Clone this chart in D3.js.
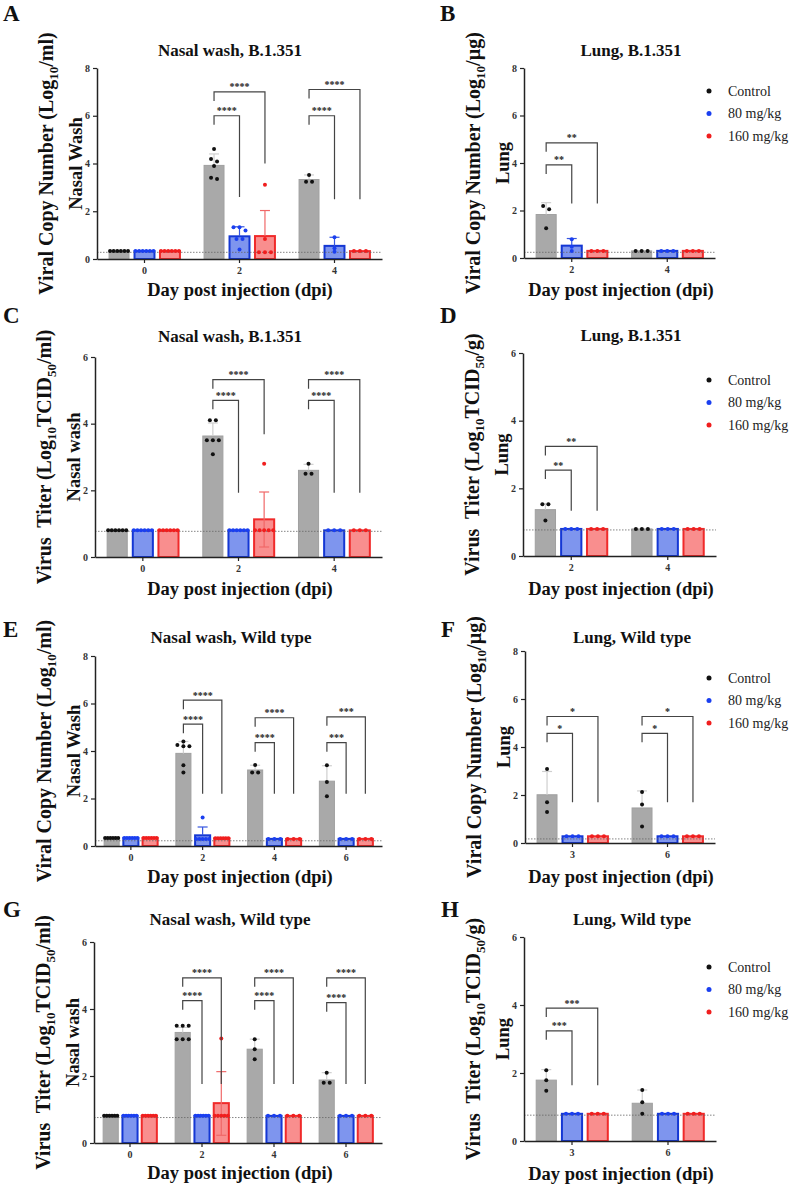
<!DOCTYPE html>
<html>
<head>
<meta charset="utf-8">
<script src="https://cdn.jsdelivr.net/npm/d3@7"></script>
<style>
body { margin: 0; background: #fff; }
svg text { font-family: "Liberation Serif", "Times New Roman", serif; }
</style>
</head>
<body>
<svg id="fig" width="789" height="1188"></svg>
<script>
// treatment groups
var groups = ["Control", "80 mg/kg", "160 mg/kg"];
var copyTicks = [0, 2, 4, 6, 8];
var titerTicks = [0, 2, 4, 6];

// A : nasal wash, B.1.351, viral copy number
var daysA = ["0", "2", "4"];
var meanA = [[0.33, 3.92, 3.33], [0.33, 0.95, 0.55], [0.33, 0.96, 0.33]];
var errA = [[null, 4.40, 3.52], [null, 1.35, 0.91], [null, 2.03, null]];
var ptsA = [
  [[0.33, 0.33, 0.33, 0.33, 0.33, 0.33], [4.61, 4.19, 4.08, 3.9, 3.35, 3.4], [3.52, 3.24, 3.24]],
  [[0.33, 0.33, 0.33, 0.33, 0.33, 0.33], [1.33, 1.33, 1.19, 0.84, 0.84, 0.4], [0.91, 0.45, 0.3]],
  [[0.33, 0.33, 0.33, 0.33, 0.33, 0.33], [3.11, 0.84, 0.28, 0.28, 0.28], [0.33, 0.33, 0.33]]
];
var sigA = [[1, 1, 6.0, 2.6, "****"], [1, 2, 7.0, 4.0, "****"], [2, 1, 6.0, 2.5, "****"], [2, 2, 7.1, 2.5, "****"]];
var lodA = 0.28;

// B : lung, B.1.351, viral copy number
var daysB = ["2", "4"];
var meanB = [[1.83, 0.3], [0.52, 0.3], [0.3, 0.3]];
var errB = [[2.33, null], [0.82, null], [null, null]];
var ptsB = [
  [[2.19, 2.05, 1.25], [0.3, 0.3, 0.3]],
  [[0.79, 0.47, 0.3], [0.3, 0.3, 0.3]],
  [[0.3, 0.3, 0.3], [0.3, 0.3, 0.3]]
];
var sigB = [[0, 1, 3.92, 2.3, "**"], [0, 2, 4.85, 2.3, "**"]];
var lodB = 0.24;

// C : nasal wash, B.1.351, virus titer
var daysC = ["0", "2", "4"];
var meanC = [[0.8, 3.63, 2.6], [0.8, 0.8, 0.8], [0.8, 1.13, 0.8]];
var errC = [[null, 4.02, 2.78], [null, null, null], [null, 1.95, null]];
var errDownC = [[null, null, null], [null, null, null], [null, 0.3, null]];
var ptsC = [
  [[0.8, 0.8, 0.8, 0.8, 0.8, 0.8], [4.1, 4.1, 3.5, 3.5, 3.5, 3.08], [2.8, 2.5, 2.5]],
  [[0.8, 0.8, 0.8, 0.8, 0.8, 0.8], [0.8, 0.8, 0.8, 0.8, 0.8, 0.8], [0.8, 0.8, 0.8]],
  [[0.8, 0.8, 0.8, 0.8, 0.8, 0.8], [2.8, 0.8, 0.8, 0.8, 0.8, 0.8], [0.8, 0.8, 0.8]]
];
var sigC = [[1, 1, 4.7, 1.93, "****"], [1, 2, 5.32, 3.68, "****"], [2, 1, 4.7, 1.93, "****"], [2, 2, 5.32, 1.93, "****"]];
var lodC = 0.77;

// D : lung, B.1.351, virus titer
var daysD = ["2", "4"];
var meanD = [[1.37, 0.8], [0.8, 0.8], [0.8, 0.8]];
var errD = [[1.55, null], [null, null], [null, null]];
var ptsD = [
  [[1.53, 1.53, 1.05], [0.8, 0.8, 0.8]],
  [[0.8, 0.8, 0.8], [0.8, 0.8, 0.8]],
  [[0.8, 0.8, 0.8], [0.8, 0.8, 0.8]]
];
var sigD = [[0, 1, 2.54, 1.34, "**"], [0, 2, 3.24, 1.34, "**"]];
var lodD = 0.77;

// E : nasal wash, wild type, viral copy number
var daysE = ["0", "2", "4", "6"];
var meanE = [[0.34, 3.9, 3.2, 2.73], [0.34, 0.45, 0.3, 0.3], [0.34, 0.33, 0.3, 0.3]];
var errE = [[null, 4.4, 3.4, 3.38], [null, 0.8, null, null], [null, null, null, null]];
var ptsE = [
  [[0.34, 0.34, 0.34, 0.34, 0.34, 0.34], [4.2, 4.4, 4.2, 4.25, 3.4, 3.1], [3.41, 3.1, 3.1], [3.4, 2.7, 2.1]],
  [[0.34, 0.34, 0.34, 0.34, 0.34, 0.34], [1.2, 0.3, 0.3, 0.3, 0.3, 0.3], [0.3, 0.3, 0.3], [0.3, 0.3, 0.3]],
  [[0.34, 0.34, 0.34, 0.34, 0.34, 0.34], [0.33, 0.33, 0.33, 0.33, 0.33, 0.33], [0.3, 0.3, 0.3], [0.3, 0.3, 0.3]]
];
var sigE = [[1, 1, 5.13, 2.2, "****"], [1, 2, 6.14, 2.2, "****"], [2, 1, 4.35, 2.2, "****"], [2, 2, 5.4, 2.2, "****"], [3, 1, 4.35, 2.2, "***"], [3, 2, 5.44, 2.2, "***"]];
var lodE = 0.22;

// F : lung, wild type, viral copy number
var daysF = ["3", "6"];
var meanF = [[2.01, 1.46], [0.28, 0.28], [0.28, 0.28]];
var errF = [[2.98, 2.17], [null, null], [null, null]];
var ptsF = [
  [[3.08, 1.7, 1.29], [2.12, 1.6, 0.69]],
  [[0.28, 0.28, 0.28], [0.28, 0.28, 0.28]],
  [[0.28, 0.28, 0.28], [0.28, 0.28, 0.28]]
];
var sigF = [[0, 1, 4.57, 1.7, "*"], [0, 2, 5.27, 1.7, "*"], [1, 1, 4.57, 1.7, "*"], [1, 2, 5.27, 1.7, "*"]];
var lodF = 0.17;

// G : nasal wash, wild type, virus titer
var daysG = ["0", "2", "4", "6"];
var meanG = [[0.81, 3.3, 2.8, 1.88], [0.81, 0.81, 0.81, 0.81], [0.81, 1.19, 0.81, 0.81]];
var errG = [[null, 3.45, 3.1, 2.1], [null, null, null, null], [null, 2.13, null, null]];
var errDownG = [[null, null, null, null], [null, null, null, null], [null, 0.23, null, null]];
var ptsG = [
  [[0.81, 0.81, 0.81, 0.81, 0.81, 0.81], [3.5, 3.5, 3.5, 3.1, 3.1, 3.1], [3.1, 2.8, 2.5], [2.1, 1.8, 1.8]],
  [[0.81, 0.81, 0.81, 0.81, 0.81, 0.81], [0.81, 0.81, 0.81, 0.81, 0.81, 0.81], [0.81, 0.81, 0.81], [0.81, 0.81, 0.81]],
  [[0.81, 0.81, 0.81, 0.81, 0.81, 0.81], [3.12, 0.81, 0.81, 0.81, 0.81, 0.81], [0.81, 0.81, 0.81], [0.81, 0.81, 0.81]]
];
var sigG = [[1, 1, 4.25, 1.76, "****"], [1, 2, 4.93, 1.76, "****"], [2, 1, 4.25, 1.76, "****"], [2, 2, 4.93, 1.76, "****"], [3, 1, 4.19, 1.76, "****"], [3, 2, 4.93, 1.76, "****"]];
var lodG = 0.76;

// H : lung, wild type, virus titer
var daysH = ["3", "6"];
var meanH = [[1.79, 1.11], [0.8, 0.8], [0.8, 0.8]];
var errH = [[2.1, 1.5], [null, null], [null, null]];
var ptsH = [
  [[2.08, 1.79, 1.48], [1.5, 1.14, 0.8]],
  [[0.8, 0.8, 0.8], [0.8, 0.8, 0.8]],
  [[0.8, 0.8, 0.8], [0.8, 0.8, 0.8]]
];
var sigH = [[0, 1, 3.24, 1.64, "***"], [0, 2, 3.91, 1.64, "***"]];
var lodH = 0.76;

// axis label pieces, [text, isSubscript]
var copyMl = [["Viral Copy Number (Log", 0], ["10", 1], ["/ml)", 0]];
var copyUg = [["Viral Copy Number (Log", 0], ["10", 1], ["/\u00b5g)", 0]];
var titerMl = [["Virus  Titer (Log", 0], ["10", 1], ["TCID", 0], ["50", 1], ["/ml)", 0]];
var titerG = [["Virus  Titer (Log", 0], ["10", 1], ["TCID", 0], ["50", 1], ["/g)", 0]];

// styling
var fills = ["#a9a9a9", "#7e95ee", "#f98e8e"];
var strokes = ["#a0a0a0", "#1437d4", "#f02a2a"];
var errColors = ["#cfcfcf", "#3656e0", "#f06868"];
var dotColors = ["#111111", "#1a3ff0", "#f01e1e"];

var svg = d3.select("#fig");

var panels = [
  {letter: "A", lp: [3, 21], days: daysA, mean: meanA, err: errA, errDown: null, pts: ptsA, sig: sigA, lod: lodA, yMax: 8, ticks: copyTicks,
   title: "Nasal wash, B.1.351", tp: [230, 56], ylab: copyMl, ylab2: "Nasal Wash", box: [97, 382, 68, 259], xl: [240, 296], legend: null},
  {letter: "B", lp: [440, 21], days: daysB, mean: meanB, err: errB, errDown: null, pts: ptsB, sig: sigB, lod: lodB, yMax: 8, ticks: copyTicks,
   title: "Lung, B.1.351", tp: [631, 56], ylab: copyUg, ylab2: "Lung", box: [524, 715, 68, 258], xl: [621, 296], legend: 91},
  {letter: "C", lp: [3, 323], days: daysC, mean: meanC, err: errC, errDown: errDownC, pts: ptsC, sig: sigC, lod: lodC, yMax: 6, ticks: titerTicks,
   title: "Nasal wash, B.1.351", tp: [230, 342], ylab: titerMl, ylab2: "Nasal wash", box: [95, 382, 357, 557], xl: [240, 595], legend: null},
  {letter: "D", lp: [440, 323], days: daysD, mean: meanD, err: errD, errDown: null, pts: ptsD, sig: sigD, lod: lodD, yMax: 6, ticks: titerTicks,
   title: "Lung, B.1.351", tp: [631, 341], ylab: titerG, ylab2: "Lung", box: [523, 716, 353, 556], xl: [621, 595], legend: 380},
  {letter: "E", lp: [3, 637], days: daysE, mean: meanE, err: errE, errDown: null, pts: ptsE, sig: sigE, lod: lodE, yMax: 8, ticks: copyTicks,
   title: "Nasal wash, Wild type", tp: [231, 643], ylab: copyMl, ylab2: "Nasal Wash", box: [95, 382, 656, 846], xl: [240, 883], legend: null},
  {letter: "F", lp: [441, 637], days: daysF, mean: meanF, err: errF, errDown: null, pts: ptsF, sig: sigF, lod: lodF, yMax: 8, ticks: copyTicks,
   title: "Lung, Wild type", tp: [632, 643], ylab: copyUg, ylab2: "Lung", box: [525, 715, 651, 843], xl: [621, 883], legend: 678},
  {letter: "G", lp: [3, 917], days: daysG, mean: meanG, err: errG, errDown: errDownG, pts: ptsG, sig: sigG, lod: lodG, yMax: 6, ticks: titerTicks,
   title: "Nasal wash, Wild type", tp: [230, 925], ylab: titerMl, ylab2: "Nasal wash", box: [94, 382, 942, 1143], xl: [240, 1179], legend: null},
  {letter: "H", lp: [441, 917], days: daysH, mean: meanH, err: errH, errDown: null, pts: ptsH, sig: sigH, lod: lodH, yMax: 6, ticks: titerTicks,
   title: "Lung, Wild type", tp: [632, 925], ylab: titerG, ylab2: "Lung", box: [524, 716, 937, 1141], xl: [621, 1180], legend: 967}
];

panels.forEach(drawPanel);

function drawPanel(p) {
  var g = svg.append("g");
  var x0 = p.box[0], x1 = p.box[1], yTop = p.box[2], yBot = p.box[3];

  var x = d3.scaleBand().domain(p.days).range([x0, x1]);
  var y = d3.scaleLinear().domain([0, p.yMax]).range([yBot, yTop]);
  var bw = x.bandwidth();
  var barW = bw * 0.21, off = bw * 0.268;
  function cx(di, si) { return x(p.days[di]) + bw / 2 + (si - 1) * off; }

  // panel letter + title
  g.append("text").attr("x", p.lp[0]).attr("y", p.lp[1])
    .attr("font-size", 23).attr("font-weight", "bold").attr("fill", "#111").text(p.letter);
  g.append("text").attr("x", p.tp[0]).attr("y", p.tp[1]).attr("text-anchor", "middle")
    .attr("font-size", 17).attr("font-weight", "bold").attr("fill", "#111").text(p.title);

  // bars
  p.mean.forEach(function(ser, si) {
    g.selectAll(null).data(ser).enter().append("rect")
      .attr("x", function(d, i) { return cx(i, si) - barW / 2; })
      .attr("y", function(d) { return y(d); })
      .attr("width", barW)
      .attr("height", function(d) { return y(0) - y(d); })
      .attr("fill", fills[si])
      .attr("stroke", strokes[si])
      .attr("stroke-width", si == 0 ? 1 : 2);
  });

  // error bars (mean + SD, lower whisker only where given)
  p.err.forEach(function(ser, si) {
    ser.forEach(function(top, i) {
      if (top == null) return;
      var bot = (p.errDown && p.errDown[si][i] != null) ? p.errDown[si][i] : p.mean[si][i];
      var xc = cx(i, si);
      g.append("line").attr("x1", xc).attr("x2", xc).attr("y1", y(bot)).attr("y2", y(top))
        .attr("stroke", errColors[si]).attr("stroke-width", 1.2);
      g.append("line").attr("x1", xc - 5).attr("x2", xc + 5).attr("y1", y(top)).attr("y2", y(top))
        .attr("stroke", errColors[si]).attr("stroke-width", 1.2);
      if (bot < p.mean[si][i]) {
        g.append("line").attr("x1", xc - 5).attr("x2", xc + 5).attr("y1", y(bot)).attr("y2", y(bot))
          .attr("stroke", errColors[si]).attr("stroke-width", 1.2);
      }
    });
  });

  // limit of detection
  g.append("line").attr("x1", x0).attr("x2", x1).attr("y1", y(p.lod)).attr("y2", y(p.lod))
    .attr("stroke", "#666").attr("stroke-width", 0.8).attr("stroke-dasharray", "1.5,1.5");

  // individual animals, stacked side by side when values coincide
  p.pts.forEach(function(ser, si) {
    ser.forEach(function(vals, i) {
      var sorted = vals.map(function(v) { return {v: v, py: y(v)}; })
        .sort(function(a, b) { return a.py - b.py; });
      var clusters = [];
      sorted.forEach(function(d) {
        var last = clusters[clusters.length - 1];
        if (last && d.py - last[last.length - 1].py < 3.5) last.push(d);
        else clusters.push([d]);
      });
      clusters.forEach(function(cl) {
        var k = cl.length;
        var step = k > 1 ? Math.min(6, (barW - 2) / (k - 1)) : 0;
        cl.forEach(function(d, j) {
          g.append("circle")
            .attr("cx", cx(i, si) + (j - (k - 1) / 2) * step)
            .attr("cy", d.py)
            .attr("r", 2)
            .attr("fill", dotColors[si]);
        });
      });
    });
  });

  // axes
  var yAxis = g.append("g").attr("transform", "translate(" + x0 + ",0)")
    .call(d3.axisLeft(y).tickValues(p.ticks).tickSize(4).tickSizeOuter(0).tickFormat(d3.format("d")));
  var xAxis = g.append("g").attr("transform", "translate(0," + yBot + ")")
    .call(d3.axisBottom(x).tickSize(4).tickSizeOuter(0).tickPadding(4));
  [yAxis, xAxis].forEach(function(a) {
    a.select(".domain").attr("stroke", "#222").attr("stroke-width", 1.5);
    a.selectAll(".tick line").attr("stroke", "#222").attr("stroke-width", 1.2);
    a.selectAll(".tick text").attr("font-family", "Liberation Serif, serif")
      .attr("font-size", 10).attr("font-weight", "bold").attr("fill", "#333");
  });

  // significance brackets
  p.sig.forEach(function(s) {
    var xl = cx(s[0], 0), xr = cx(s[0], s[1]), yb = y(s[2]);
    g.append("path")
      .attr("d", "M" + xl + "," + (yb + 9) + "V" + yb + "H" + xr + "V" + y(s[3]))
      .attr("fill", "none").attr("stroke", "#444").attr("stroke-width", 1.2);
    g.append("text").attr("x", (xl + xr) / 2).attr("y", yb - 1.5).attr("text-anchor", "middle")
      .attr("font-size", 10).attr("font-weight", "bold").attr("fill", "#222").text(s[4]);
  });

  // axis titles
  var cy = (yTop + yBot) / 2;
  var yl = g.append("text").attr("transform", "translate(" + (x0 - 44) + "," + cy + ") rotate(-90)")
    .attr("text-anchor", "middle").attr("font-size", 20).attr("font-weight", "bold").attr("fill", "#111")
    .style("white-space", "pre");
  p.ylab.forEach(function(part) {
    var t = yl.append("tspan").text(part[0]);
    if (part[1]) t.attr("font-size", 13).attr("dy", 5);
    else if (yl.selectAll("tspan").size() > 1) t.attr("dy", -5);
  });
  g.append("text").attr("transform", "translate(" + (x0 - 15) + "," + cy + ") rotate(-90)")
    .attr("text-anchor", "middle").attr("font-size", 18.5).attr("font-weight", "bold").attr("fill", "#111")
    .text(p.ylab2);
  g.append("text").attr("x", p.xl[0]).attr("y", p.xl[1]).attr("text-anchor", "middle")
    .attr("font-size", 18.5).attr("font-weight", "bold").attr("fill", "#111").text("Day post injection (dpi)");

  // legend
  if (p.legend != null) {
    groups.forEach(function(name, si) {
      var ly = p.legend + si * 22.5;
      g.append("circle").attr("cx", 709).attr("cy", ly).attr("r", 2.5).attr("fill", dotColors[si]);
      g.append("text").attr("x", 728).attr("y", ly).attr("dy", "0.33em")
        .attr("font-size", 14).attr("fill", "#222").text(name);
    });
  }
}
</script>
</body>
</html>
